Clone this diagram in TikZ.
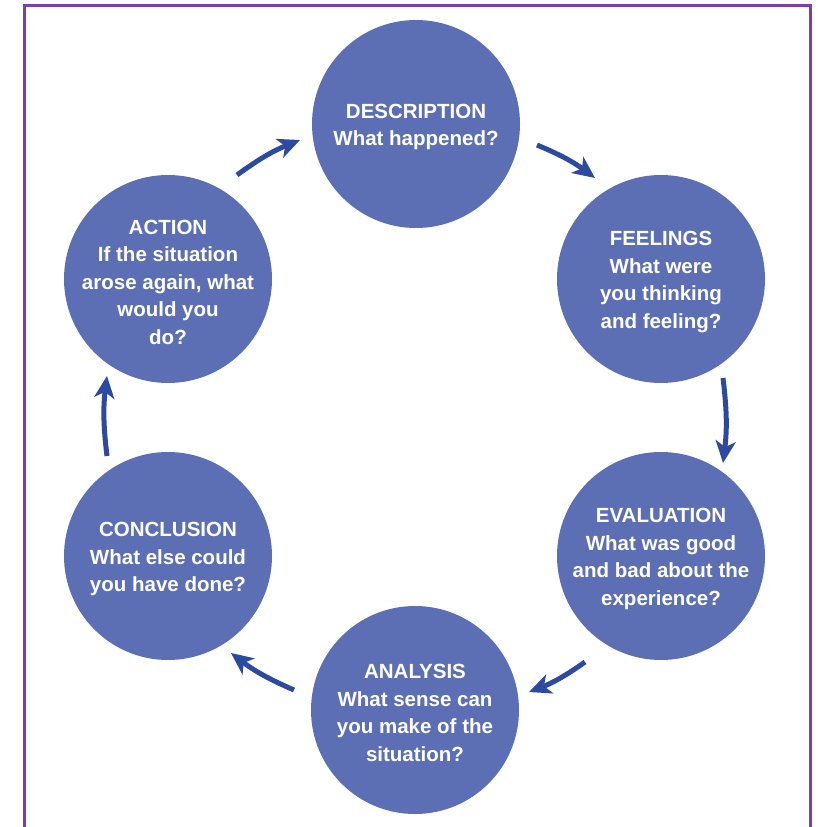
\documentclass[tikz,border=0pt]{standalone}
\usepackage{fontspec}
\setmainfont{Liberation Sans}
\usetikzlibrary{arrows.meta}
\definecolor{discfill}{RGB}{92,111,180}
\definecolor{arrowblue}{RGB}{44,74,160}
\definecolor{framepurple}{RGB}{122,62,176}

\begin{document}
\begin{tikzpicture}[x=1pt,y=1pt,
  stage/.style={circle, fill=discfill, minimum size=208pt, inner sep=0pt},
  stagetext/.style={text=white, align=center, yshift=-3pt, inner sep=0pt,
    font=\fontsize{20.5}{27.5}\selectfont\bfseries},
  flow/.style={draw=arrowblue, line width=5pt,
    -{Stealth[length=22pt,width=20pt,inset=6pt]}}]
\useasboundingbox (0,0) rectangle (818,-827);

% open frame (no bottom edge)
\begin{scope}
  \clip (0,0) rectangle (818,-827);
  \draw[framepurple, line width=3pt] (24.5,-840) -- (24.5,-5) -- (810.5,-5) -- (810.5,-840);
\end{scope}

% the six stages of the cycle
\node[stage, label={[stagetext]center:DESCRIPTION\\What happened?}] (desc) at (416,-124) {};
\node[stage, label={[stagetext]center:FEELINGS\\What were\\you thinking\\and feeling?}] (feel) at (661,-279) {};
\node[stage, label={[stagetext]center:EVALUATION\\What was good\\and bad about the\\experience?}] (eval) at (661,-556) {};
\node[stage, label={[stagetext]center:ANALYSIS\\What sense can\\you make of the\\situation?}] (anal) at (415,-710) {};
\node[stage, label={[stagetext]center:CONCLUSION\\What else could\\you have done?}] (conc) at (168,-556) {};
\node[stage, label={[stagetext]center:ACTION\\If the situation\\arose again, what\\would you\\do?}] (act) at (168,-279) {};

% arrow end points on a ring around the cycle
\coordinate (a1s) at (237,-175);  \coordinate (a1e) at (300,-140);
\coordinate (a2s) at (537,-145);  \coordinate (a2e) at (595,-178);
\coordinate (a3s) at (723,-378);  \coordinate (a3e) at (723,-463);
\coordinate (a4s) at (585,-662);  \coordinate (a4e) at (529,-692);
\coordinate (a5s) at (294,-690);  \coordinate (a5e) at (231,-653);
\coordinate (a6s) at (107,-456);  \coordinate (a6e) at (107,-376);

\draw[flow] (a1s) to[bend left=7] (a1e);
\draw[flow] (a2s) to[bend left=7] (a2e);
\draw[flow] (a3s) to[bend left=7] (a3e);
\draw[flow] (a4s) to[bend left=7] (a4e);
\draw[flow] (a5s) to[bend left=7] (a5e);
\draw[flow] (a6s) to[bend left=7] (a6e);
\end{tikzpicture}
\end{document}
